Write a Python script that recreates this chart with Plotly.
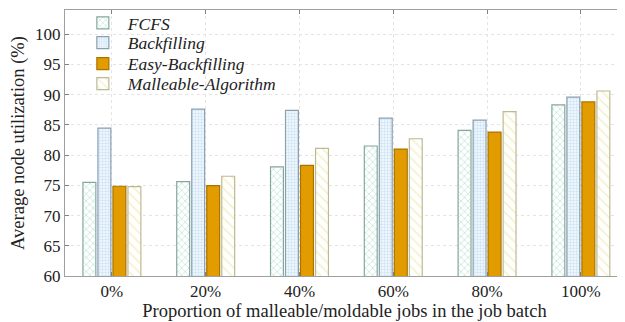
import plotly.graph_objects as go

categories = ["0%", "20%", "40%", "60%", "80%", "100%"]
series_names = ["FCFS", "Backfilling", "Easy-Backfilling", "Malleable-Algorithm"]
fcfs = [75.5, 75.6, 78.05, 81.5, 84.1, 88.3]
backfilling = [84.45, 87.6, 87.4, 86.1, 85.8, 89.6]
easy_backfilling = [74.85, 74.95, 78.3, 81.0, 83.8, 88.8]
malleable = [74.8, 76.5, 81.1, 82.7, 87.2, 90.6]
y_ticks = [60, 65, 70, 75, 80, 85, 90, 95, 100]

styles = [
    dict(line="#86a89b", pattern=dict(shape="x", fgcolor="#a8dcc8", bgcolor="#ffffff", size=5, solidity=0.2)),
    dict(line="#8a9faf", pattern=dict(shape="+", fgcolor="#c4e0f4", bgcolor="#eef6fc", size=3, solidity=0.3)),
    dict(line="#a87400", pattern=None, color="#e39c00"),
    dict(line="#bdb994", pattern=dict(shape="\\", fgcolor="#f2efc0", bgcolor="#ffffff", size=7, solidity=0.2)),
]

font_family = "Liberation Serif"
legend_names = ["legend", "legend2", "legend3", "legend4"]
legend_y = [0.951, 0.877, 0.798, 0.723]

fig = go.Figure()
for name, vals, st, lg in zip(series_names, [fcfs, backfilling, easy_backfilling, malleable], styles, legend_names):
    marker = dict(line=dict(color=st["line"], width=1.2))
    if st["pattern"] is None:
        marker["color"] = st["color"]
    else:
        marker["color"] = "#ffffff"
        marker["pattern"] = dict(fillmode="replace", **st["pattern"])
    fig.add_trace(go.Bar(x=categories, y=vals, name=name, marker=marker, legend=lg))

legend_layout = {}
for lg, ly in zip(legend_names, legend_y):
    legend_layout[lg] = dict(
        x=0.023, y=ly, xanchor="left", yanchor="middle",
        bgcolor="rgba(255,255,255,0)", borderwidth=0,
        font=dict(family=font_family, size=17.5, color="#222222", style="italic"),
        itemwidth=40,
    )

fig.update_layout(
    width=617, height=314,
    margin=dict(l=57, r=1, t=2, b=46, autoexpand=False),
    paper_bgcolor="white", plot_bgcolor="white",
    barmode="group", bargap=0.36, bargroupgap=0.14,
    font=dict(family=font_family, size=17, color="#222222"),
    showlegend=True,
    shapes=[dict(type="rect", xref="paper", yref="paper", x0=0.004, x1=0.40, y0=0.665, y1=0.995,
                 fillcolor="white", line=dict(width=0), layer="between")],
    **legend_layout,
)
fig.update_xaxes(
    range=[-0.5, 5.46], tickvals=categories, ticktext=categories,
    showline=True, linecolor="#a0a0a0", linewidth=1, mirror="ticks",
    ticks="inside", ticklen=4, tickcolor="#808080",
    showgrid=True, gridcolor="#e4e4e4", griddash="dot", gridwidth=1,
    title=dict(text="Proportion of malleable/moldable jobs in the job batch", standoff=2,
               font=dict(family=font_family, size=18.5)),
    tickfont=dict(family=font_family, size=17),
)
fig.update_yaxes(
    range=[60, 104], tickvals=y_ticks,
    showline=True, linecolor="#a0a0a0", linewidth=1, mirror="ticks",
    ticks="inside", ticklen=4, tickcolor="#808080",
    showgrid=True, gridcolor="#e4e4e4", griddash="dot", gridwidth=1,
    zeroline=False,
    title=dict(text="Average node utilization (%)", standoff=6,
               font=dict(family=font_family, size=18.5)),
    tickfont=dict(family=font_family, size=17),
)

fig.write_html("out.html")
